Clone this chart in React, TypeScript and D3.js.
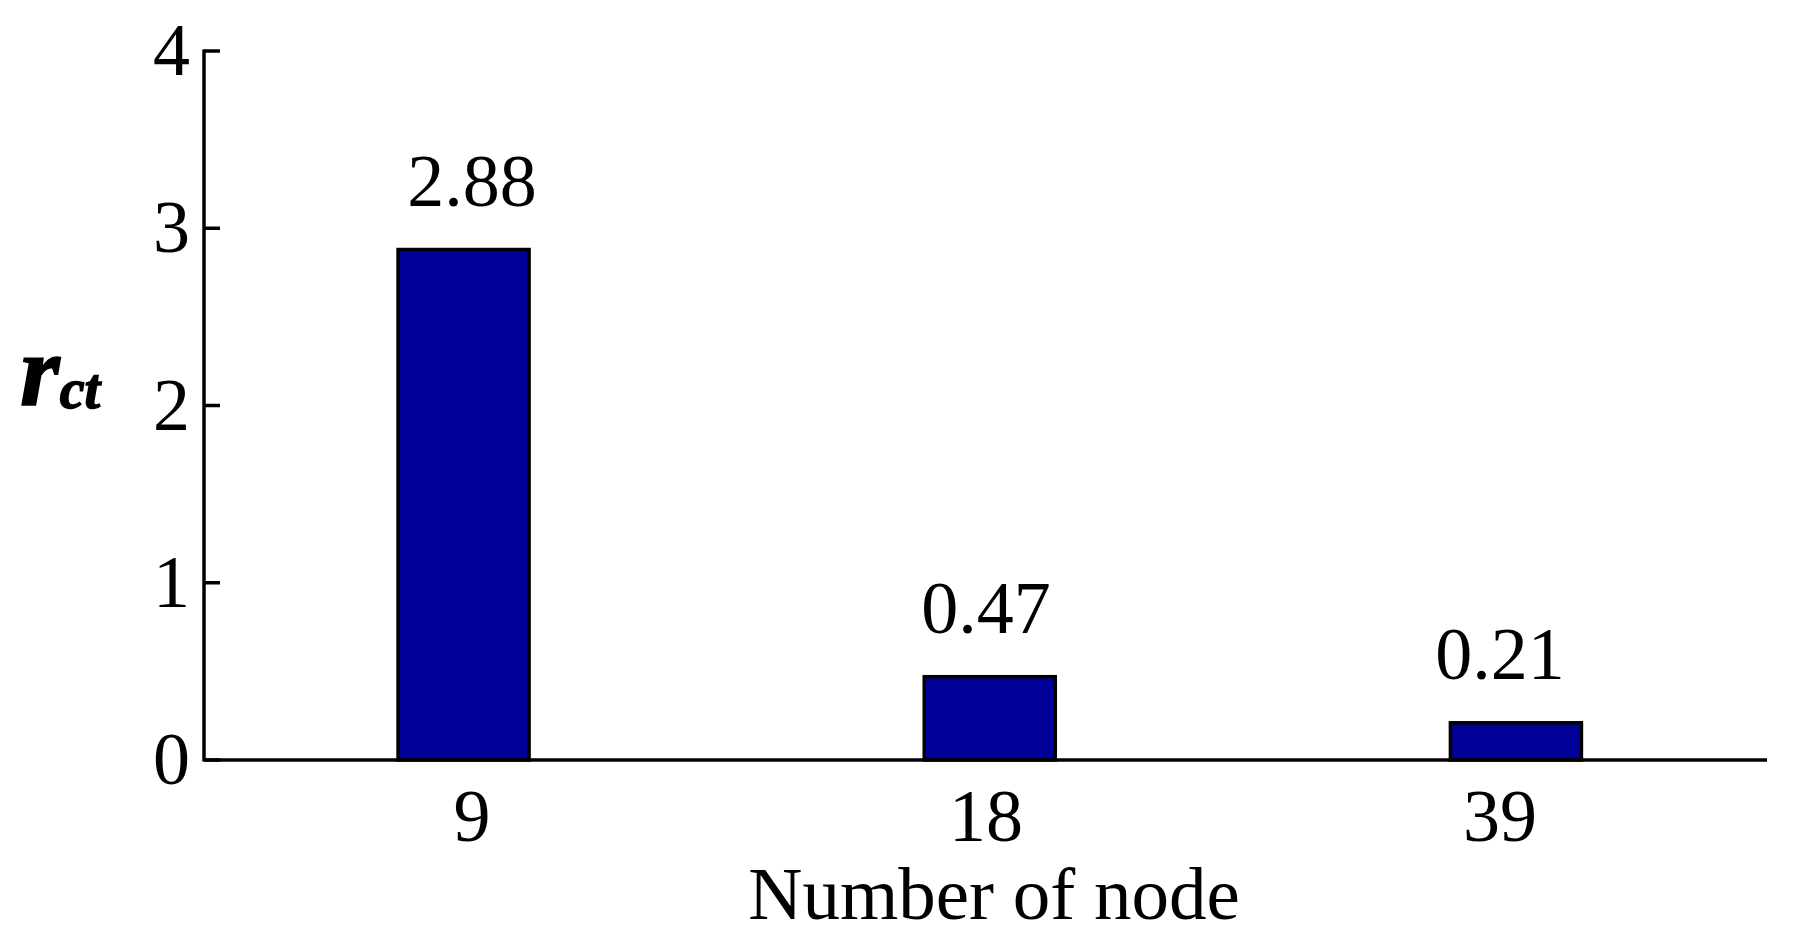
import React from "react";
import * as d3 from "d3";

const categories: string[] = ["9", "18", "39"];
const values: number[] = [2.88, 0.47, 0.21];
const valueLabels: string[] = ["2.88", "0.47", "0.21"];
const yTicks: number[] = [0, 1, 2, 3, 4];
const xTitle = "Number of node";

const W = 1800;
const H = 946;
const FONT = '"Liberation Serif", serif';
const BAR_FILL = "#000099";

export default function App() {
  const idx = categories.map((_, i) => i + 1);
  const x = d3.scaleLinear().domain([0.5, 3.5]).range([200.5, 1779]);
  const labelX = d3.scaleLinear().domain([1, 3]).range([472, 1500]);
  const y = d3.scaleLinear().domain([0, 4]).range([760, 51]);
  const barW = x(1.249) - x(1);
  const axisLeft = 204;
  const axisRight = 1767;

  return (
    <div style={{ position: "absolute", left: 0, top: 0 }}>
      <svg width={W} height={H} style={{ display: "block", background: "#fff" }}>
        <rect x={0} y={0} width={W} height={H} fill="#fff" />
        {values.map((v, i) => (
          <rect
            key={"b" + i}
            x={x(idx[i]) - barW / 2}
            y={y(v)}
            width={barW}
            height={y(0) - y(v)}
            fill={BAR_FILL}
            stroke="#000"
            strokeWidth={3.5}
          />
        ))}
        <line x1={axisLeft} x2={axisLeft} y1={y(4) - 1.5} y2={y(0) + 1.5} stroke="#000" strokeWidth={3.5} />
        <line x1={axisLeft} x2={axisRight} y1={y(0)} y2={y(0)} stroke="#000" strokeWidth={3.5} />
        {yTicks.map((t) => (
          <g key={"t" + t}>
            <line x1={axisLeft} x2={axisLeft + 16} y1={y(t)} y2={y(t)} stroke="#000" strokeWidth={3.5} />
            <text x={190} y={y(t) + 24} textAnchor="end" fontFamily={FONT} fontSize={74} fill="#000">
              {t}
            </text>
          </g>
        ))}
        {categories.map((c, i) => (
          <text
            key={"x" + i}
            x={labelX(idx[i])}
            y={y(0) + 81}
            textAnchor="middle"
            fontFamily={FONT}
            fontSize={74}
            fill="#000"
          >
            {c}
          </text>
        ))}
        {values.map((v, i) => (
          <text
            key={"v" + i}
            x={labelX(idx[i])}
            y={y(v) - 44}
            textAnchor="middle"
            fontFamily={FONT}
            fontSize={74}
            fill="#000"
          >
            {valueLabels[i]}
          </text>
        ))}
        <text x={994} y={919} textAnchor="middle" fontFamily={FONT} fontSize={75} fill="#000">
          {xTitle}
        </text>
        <text
          x={20}
          y={405}
          fontFamily={FONT}
          fontStyle="italic"
          fontWeight="bold"
          fill="#000"
          stroke="#000"
          strokeWidth={1.5}
        >
          <tspan fontSize={102}>r</tspan>
          <tspan fontSize={56} dy={3}>ct</tspan>
        </text>
      </svg>
    </div>
  );
}
